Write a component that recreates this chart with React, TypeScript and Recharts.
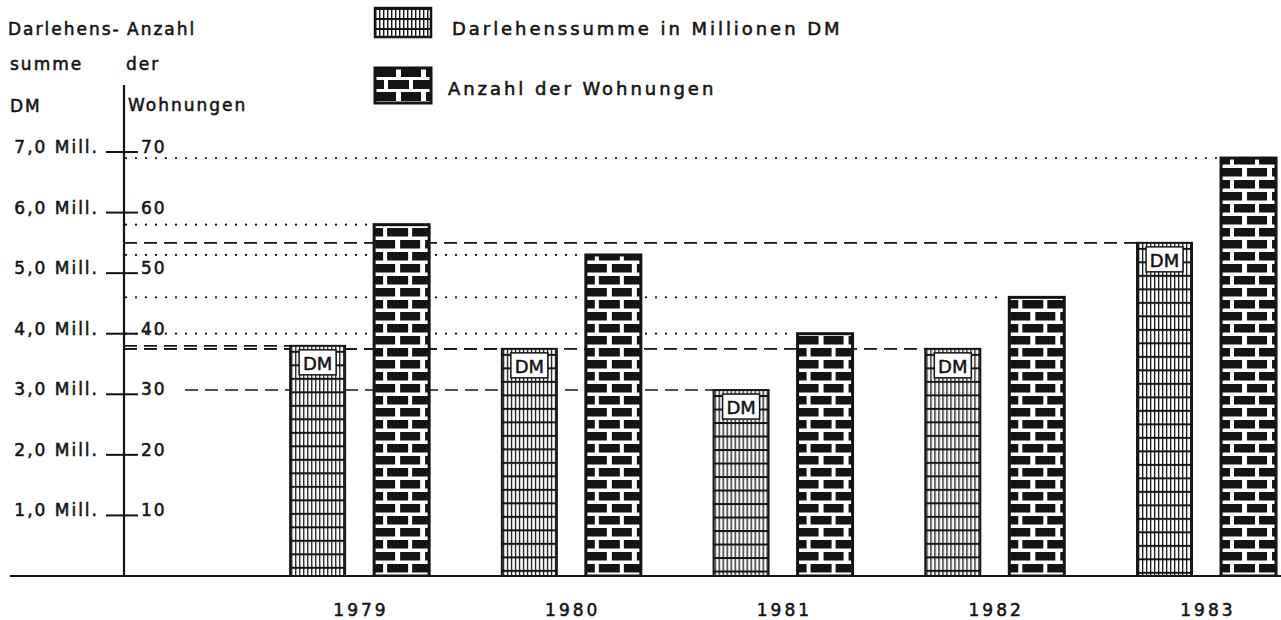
import React from 'react';
import { BarChart, Bar, XAxis, YAxis, ReferenceLine } from 'recharts';

// ---------- data ----------
const years = [1979, 1980, 1981, 1982, 1983];
const darlehenMillDM = [3.8, 3.75, 3.07, 3.75, 5.5];
const wohnungen = [58, 53, 40, 46, 69];
const wTicks = [10, 20, 30, 40, 50, 60, 70];

const legendDM = 'Darlehenssumme in Millionen DM';
const legendW = 'Anzahl der Wohnungen';

const data = years.map((year, i) => ({ year, dm: darlehenMillDM[i], wohn: wohnungen[i] }));

// ---------- layout / style ----------
const FONT = '"DejaVu Sans", Verdana, sans-serif';
const INK = '#141414';
const CHART_W = 1281;
const CHART_H = 620;
const PLOT_LEFT = 10;
const PLOT_TOP = 85;
const PLOT_BOTTOM = 576;
const TOP_TICK_Y = 152; // pixel of value 70
const AXIS_X = 124;
const X_MIN = 1977.347;
const X_MAX = 1983.35;
const PX_PER_YEAR = (CHART_W - PLOT_LEFT) / (X_MAX - X_MIN);
const AXIS_YEAR = X_MIN + (AXIS_X - PLOT_LEFT) / PX_PER_YEAR;
const W_MAX = (70 * (PLOT_BOTTOM - PLOT_TOP)) / (PLOT_BOTTOM - TOP_TICK_Y);
const DM_MAX = W_MAX / 10;
const BAR_SIZE = 55;
const BAR_GAP = 29;
const LABEL_CLEAR_X = 185;

const textStyle = {
  fontFamily: FONT,
  fontSize: 17,
  fill: INK,
  stroke: INK,
  strokeWidth: 0.55,
  letterSpacing: 2,
} as const;

// ---------- shapes ----------
const DmBar = (props: any) => {
  const { x, y, width, height, index } = props;
  const id = `dm-pat-${index}`;
  const gridTop = y + 32;
  return (
    <g>
      <defs>
        <pattern id={id} patternUnits="userSpaceOnUse" x={x + 1} y={gridTop} width={4} height={13.5}>
          <rect width={4} height={13.5} fill="#fff" />
          <rect x={0} y={0} width={1.3} height={13.5} fill={INK} />
          <rect x={0} y={0} width={4} height={2} fill={INK} />
        </pattern>
      </defs>
      <rect x={x} y={y} width={width} height={height} fill={`url(#${id})`} stroke={INK} strokeWidth={2} />
      <rect x={x + 9} y={y + 4} width={width - 18} height={25} fill="#fff" stroke={INK} strokeWidth={1.5} />
      <text
        x={x + width / 2}
        y={y + 24}
        textAnchor="middle"
        fontFamily={FONT}
        fontSize={18}
        fill={INK}
        stroke={INK}
        strokeWidth={0.5}
      >
        DM
      </text>
    </g>
  );
};

const BrickBar = (props: any) => {
  const { x, y, width, height, index } = props;
  const id = `brick-pat-${index}`;
  return (
    <g>
      <defs>
        <pattern id={id} patternUnits="userSpaceOnUse" x={x} y={y + height} width={25} height={24}>
          <rect width={25} height={24} fill="#fff" />
          <rect x={1} y={0} width={20} height={8.5} fill={INK} />
          <rect x={13} y={12} width={12} height={8.5} fill={INK} />
          <rect x={0} y={12} width={9} height={8.5} fill={INK} />
        </pattern>
      </defs>
      <rect x={x} y={y} width={width} height={height} fill={`url(#${id})`} stroke={INK} strokeWidth={3} />
    </g>
  );
};

const nearTick = (v: number) => Math.abs(v - Math.round(v / 10) * 10) < 1.5;

const DmGuide = (props: any) => {
  const { x, y, value } = props;
  const v = (Array.isArray(value) ? value[1] : value) * 10;
  const start = nearTick(v) ? LABEL_CLEAR_X : AXIS_X;
  return <line x1={start} y1={y} x2={x} y2={y} stroke={INK} strokeWidth={1.6} strokeDasharray="13 7" />;
};

const WGuide = (props: any) => {
  const { x, y } = props;
  return (
    <line
      x1={AXIS_X + 2}
      y1={y}
      x2={x - 4}
      y2={y}
      stroke={INK}
      strokeWidth={2.3}
      strokeDasharray="0 10"
      strokeLinecap="round"
    />
  );
};

const YTick = (props: any) => {
  const { y, payload } = props;
  const v = payload.value as number;
  return (
    <g>
      <line x1={AXIS_X - 18} x2={AXIS_X + 14} y1={y} y2={y} stroke={INK} strokeWidth={2} />
      <text x={AXIS_X + 17} y={y + 1} style={textStyle}>
        {v}
      </text>
      <text x={99} y={y + 1} textAnchor="end" style={textStyle}>
        {`${v / 10},0 Mill.`}
      </text>
    </g>
  );
};

const XTick = (props: any) => {
  const { x, payload } = props;
  return (
    <text x={x + 1} y={616} textAnchor="middle" style={{ ...textStyle, letterSpacing: 3 }}>
      {payload.value}
    </text>
  );
};

// ---------- legend / header overlay ----------
const legendText = { ...textStyle, fontSize: 18, letterSpacing: 2.95 } as const;

const Overlay = () => (
  <svg width={CHART_W} height={CHART_H} style={{ position: 'absolute', left: 0, top: 0, pointerEvents: 'none' }}>
    <defs>
      <pattern id="lg-dm" patternUnits="userSpaceOnUse" x={375} y={8} width={4} height={10}>
        <rect width={4} height={10} fill="#fff" />
        <rect x={0} y={0} width={1.4} height={10} fill={INK} />
        <rect x={0} y={0} width={4} height={2} fill={INK} />
      </pattern>
      <pattern id="lg-brick" patternUnits="userSpaceOnUse" x={375} y={68} width={25} height={24}>
        <rect width={25} height={24} fill="#fff" />
        <rect x={1} y={0} width={20} height={9} fill={INK} />
        <rect x={13} y={12} width={12} height={9} fill={INK} />
        <rect x={0} y={12} width={9} height={9} fill={INK} />
      </pattern>
    </defs>
    <rect x={375} y={8} width={56} height={29} fill="url(#lg-dm)" stroke={INK} strokeWidth={2.5} />
    <rect x={375} y={68} width={56} height={35} fill="url(#lg-brick)" stroke={INK} strokeWidth={3} />
    <text x={452} y={35} style={legendText}>{legendDM}</text>
    <text x={448} y={95} style={legendText}>{legendW}</text>

    <text x={8} y={35} style={textStyle}>Darlehens-</text>
    <text x={127} y={35} style={textStyle}>Anzahl</text>
    <text x={10} y={70} style={textStyle}>summe</text>
    <text x={126} y={70} style={textStyle}>der</text>
    <text x={10} y={112} style={textStyle}>DM</text>
    <text x={128} y={111} style={textStyle}>Wohnungen</text>
  </svg>
);

export default function App() {
  return (
    <div style={{ position: 'absolute', left: 0, top: 0, width: CHART_W, height: CHART_H, background: '#fff' }}>
      <BarChart
        width={CHART_W}
        height={CHART_H}
        data={data}
        margin={{ top: PLOT_TOP, right: 0, bottom: 0, left: PLOT_LEFT - 1 }}
        barGap={BAR_GAP}
      >
        <XAxis
          xAxisId="a_main"
          type="number"
          dataKey="year"
          domain={[X_MIN, X_MAX]}
          allowDataOverflow
          ticks={years}
          interval={0}
          height={CHART_H - PLOT_BOTTOM}
          axisLine={{ stroke: INK, strokeWidth: 2.2 }}
          tickLine={false}
          tick={(p: any) => <XTick {...p} />}
        />
        <XAxis
          xAxisId="b_lines"
          type="number"
          dataKey="year"
          domain={[X_MIN, X_MAX]}
          allowDataOverflow
          ticks={years}
          height={0}
          hide
        />
        <YAxis
          yAxisId="a_w"
          domain={[0, W_MAX]}
          allowDataOverflow
          ticks={wTicks}
          interval={0}
          width={1}
          axisLine={false}
          tickLine={false}
          tick={(p: any) => <YTick {...p} />}
        />
        <YAxis yAxisId="b_dm" domain={[0, DM_MAX]} allowDataOverflow width={0} hide />

        <Bar
          xAxisId="b_lines"
          yAxisId="b_dm"
          dataKey="dm"
          barSize={BAR_SIZE}
          isAnimationActive={false}
          shape={(p: any) => <DmGuide {...p} />}
        />
        <Bar
          xAxisId="b_lines"
          yAxisId="a_w"
          dataKey="wohn"
          barSize={BAR_SIZE}
          isAnimationActive={false}
          shape={(p: any) => <WGuide {...p} />}
        />

        <ReferenceLine xAxisId="a_main" yAxisId="a_w" x={AXIS_YEAR} stroke={INK} strokeWidth={2.2} />

        <Bar
          xAxisId="a_main"
          yAxisId="b_dm"
          dataKey="dm"
          barSize={BAR_SIZE}
          isAnimationActive={false}
          shape={(p: any) => <DmBar {...p} />}
        />
        <Bar
          xAxisId="a_main"
          yAxisId="a_w"
          dataKey="wohn"
          barSize={BAR_SIZE}
          isAnimationActive={false}
          shape={(p: any) => <BrickBar {...p} />}
        />
      </BarChart>
      <Overlay />
    </div>
  );
}
